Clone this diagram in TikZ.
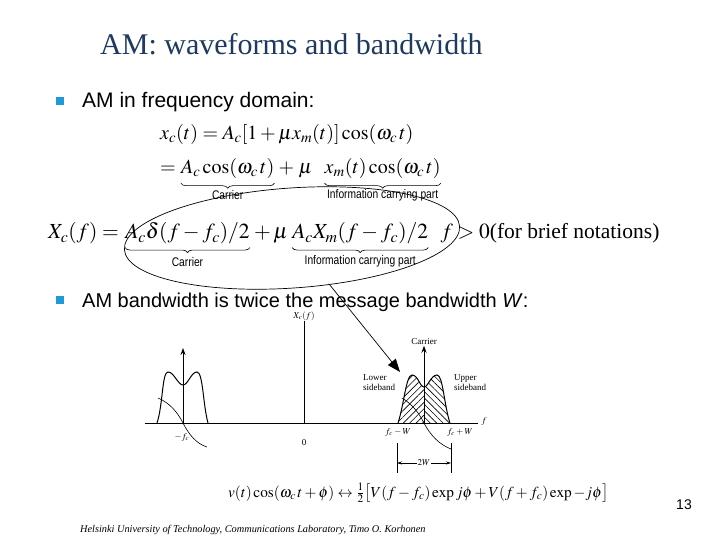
\documentclass[tikz,border=0pt]{standalone}
\usepackage{mathptmx}
\usepackage[no-math]{fontspec}
\setmainfont{Liberation Serif}
\setsansfont{Liberation Sans}
\newfontfamily\narrowsf[FakeStretch=0.82]{Liberation Sans}
\usetikzlibrary{shapes.geometric,arrows.meta,patterns.meta,decorations.pathreplacing}
\definecolor{titleblue}{HTML}{1F3A60}
\definecolor{bulletblue}{HTML}{1E9AD6}
\begin{document}
\begin{tikzpicture}[x=1pt,y=-1pt,
  eq/.style={inner sep=0pt, font=\fontsize{20}{24}\selectfont, anchor=base west},
  eqb/.style={inner sep=0pt, font=\fontsize{21.5}{25}\selectfont, anchor=base west},
  lbl/.style={inner sep=0pt, font=\narrowsf\fontsize{12.5}{13}\selectfont},
  brc/.style={decorate, decoration={brace, mirror, amplitude=5pt}, line width=0.6pt},
  bul/.style={fill=bulletblue, minimum size=8pt, inner sep=0pt},
  btxt/.style={inner sep=0pt, anchor=base west, font=\sffamily\fontsize{20}{24}\selectfont},
  gl/.style={inner sep=0.5pt, font=\fontsize{9}{10}\selectfont},
  imp/.style={line width=1pt, -{Stealth[length=7pt,width=5pt]}},
  hump/.style={line width=1pt},
  thinc/.style={line width=0.6pt},
]
\useasboundingbox (0,0) rectangle (720,540);
\fill[white] (0,0) rectangle (720,540);

% title
\node[anchor=base west, inner sep=0, text=titleblue, font=\fontsize{30}{34}\selectfont] (title) at (100,55) {AM: waveforms and bandwidth};

% bullets
\node[bul] (b1) at (60,101) {};
\node[btxt, font=\sffamily\fontsize{21}{24}\selectfont] (t1) at (82,108) {AM in frequency domain:};
\node[bul] (b2) at (60,300) {};
\node[btxt] (t2) at (82,307) {AM bandwidth is twice the message bandwidth \textit{W}:};

% equation line 1
\node[eq] (e1) at (160,140) {$x_c(t) = A_c[1+\mu x_m(t)]\cos(\omega_c\, t)$};

% equation line 2
\node[eq] (e2a) at (160,174) {$=$};
\node[eq] (e2b) at ([xshift=5pt]e2a.base east) {$A_c\cos(\omega_c\, t)$};
\node[eq] (e2c) at ([xshift=4pt]e2b.base east) {$+\;\mu$};
\node[eq] (e2d) at ([xshift=12pt]e2c.base east) {$x_m(t)\cos(\omega_c\, t)$};
\draw[brc] ([yshift=-4pt]e2b.south west) -- ([yshift=-4pt]e2b.south east);
\draw[brc] ([yshift=-4pt]e2d.south west) -- ([yshift=-4pt]e2d.south east);
\node[lbl] (l2a) at ([yshift=-16pt]e2b.south) {Carrier};
\node[lbl] (l2b) at ([yshift=-16pt]e2d.south) {Information carrying part};

% equation line 3
\node[eqb] (e3a) at (48,239) {$X_c(f) =$};
\node[eqb] (e3b) at ([xshift=6pt]e3a.base east) {$A_c\delta(f-f_c)/2$};
\node[eqb] (e3c) at ([xshift=4pt]e3b.base east) {$+\,\mu$};
\node[eqb] (e3d) at ([xshift=4pt]e3c.base east) {$A_cX_m(f-f_c)/2$};
\node[eqb] (e3e) at ([xshift=12pt]e3d.base east) {$f>0$(for brief notations)};
\draw[brc] ([yshift=-3pt]e3b.south west) -- ([yshift=-3pt]e3b.south east);
\draw[brc] ([yshift=-3pt]e3d.south west) -- ([yshift=-3pt]e3d.south east);
\node[lbl] (l3a) at ([yshift=-17pt]e3b.south) {Carrier};
\node[lbl] (l3b) at ([yshift=-17pt]e3d.south) {Information carrying part};

% ellipse and arrow
\node[draw, ellipse, minimum width=336pt, minimum height=100pt, inner sep=0pt, rotate=4, line width=0.7pt] (ell) at (292,238) {};
\coordinate (arrE) at (400,372);
\draw[line width=0.7pt, -{Triangle[length=13pt,width=10pt]}] (ell) -- (arrE);

% spectrum axes
\coordinate (axL) at (145,423);
\coordinate (axR) at (478,423);
\draw[line width=0.5pt] (axL) -- (axR);
\node[gl] (flab) at (484,421) {$f$};
\coordinate (vaB) at (304,423);
\node[gl] (vlab) at (304,316) {$X_c(f)$};
\draw[line width=0.5pt] (vaB) -- (vlab.south);
\node[gl] (zero) at (304,443) {0};

% negative side
\coordinate (nfc) at (183,423);
\coordinate (nfcT) at (183,348);
\draw[imp] (nfc) -- (nfcT);
\draw[hump] (157,423) .. controls (163,405) and (162,372) .. (168,372)
  .. controls (174,372) and (178,385) .. (183,385)
  .. controls (188,385) and (191,372) .. (197,372)
  .. controls (203,372) and (203,405) .. (208,423);
\draw[thinc] (158,398) .. controls (170,403) and (178,413) .. (183,423)
  .. controls (189,435) and (197,444) .. (207,447);
\node[gl] (nlab) at (182,437) {$-f_c$};

% positive side
\begin{scope}
\clip (398,423) .. controls (404,405) and (406,375) .. (412,375)
  .. controls (418,375) and (420,387) .. (424,387) -- (424,423) -- cycle;
\fill[pattern={Lines[angle=45,distance=4.5pt,line width=0.6pt]}] (390,360) rectangle (424,423);
\end{scope}
\begin{scope}
\clip (424,423) -- (424,387) .. controls (428,387) and (431,375) .. (437,375)
  .. controls (443,375) and (444,405) .. (450,423) -- cycle;
\fill[pattern={Lines[angle=-45,distance=4.5pt,line width=0.6pt]}] (424,360) rectangle (455,423);
\end{scope}
\draw[hump] (398,423) .. controls (404,405) and (406,375) .. (412,375)
  .. controls (418,375) and (420,387) .. (424,387)
  .. controls (428,387) and (431,375) .. (437,375)
  .. controls (443,375) and (444,405) .. (450,423);
\draw[thinc] (402,398) .. controls (412,404) and (419,413) .. (424,423)
  .. controls (430,435) and (440,445) .. (451,449);
\node[gl] (car) at (424,342) {Carrier};
\coordinate (pfc) at (424,423);
\draw[imp] (pfc) -- (car.south);
\node[gl, align=left] (lsb) at (379,383) {Lower\\sideband};
\node[gl, align=left] (usb) at (470,383) {Upper\\sideband};
\node[gl] (fcm) at (398,432) {$f_c - W$};
\node[gl] (fcp) at (460,432) {$f_c + W$};

% 2W dimension
\coordinate (tL1) at (397,443);
\coordinate (tL2) at (397,473);
\coordinate (tR1) at (451,443);
\coordinate (tR2) at (451,473);
\draw[line width=0.5pt] (tL1) -- (tL2);
\draw[line width=0.5pt] (tR1) -- (tR2);
\node[gl] (twoW) at (424,463) {$2W$};
\coordinate (dL) at (397,463);
\coordinate (dR) at (451,463);
\draw[line width=0.5pt, -{Stealth[length=5pt,width=3pt]}] (twoW.west) -- (dL);
\draw[line width=0.5pt, -{Stealth[length=5pt,width=3pt]}] (twoW.east) -- (dR);

% bottom formula
\node[anchor=base west, inner sep=0, font=\fontsize{15.3}{18}\selectfont] (form) at (228,497)
  {$v(t)\cos(\omega_c\, t+\phi)\leftrightarrow\frac{1}{2}\bigl[V(f-f_c)\exp j\phi + V(f+f_c)\exp -j\phi\bigr]$};

% page number and footer
\node[inner sep=0, font=\sffamily\fontsize{14}{16}\selectfont] (pg) at (684,505) {13};
\node[anchor=west, inner sep=0, font=\itshape\fontsize{10.3}{12}\selectfont] (foot) at (80,530)
  {Helsinki University of Technology, Communications Laboratory, Timo O. Korhonen};
\end{tikzpicture}
\end{document}
